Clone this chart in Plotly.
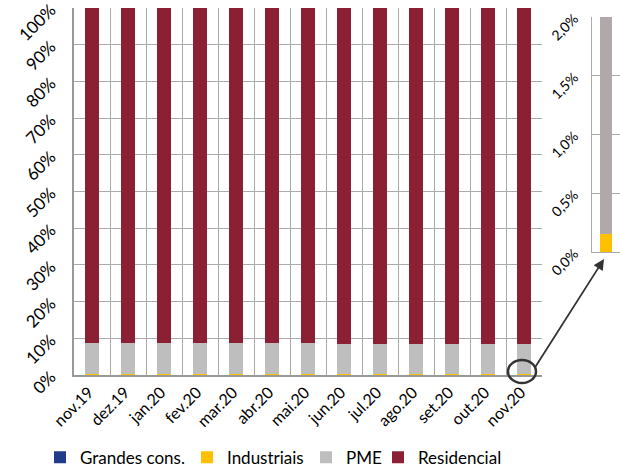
import plotly.graph_objects as go

months = ["nov.19", "dez.19", "jan.20", "fev.20", "mar.20", "abr.20", "mai.20",
          "jun.20", "jul.20", "ago.20", "set.20", "out.20", "nov.20"]
grandes = [0.02] * 13
industriais = [0.20, 0.20, 0.20, 0.20, 0.20, 0.20, 0.20, 0.20, 0.20, 0.15, 0.15, 0.15, 0.15]
pme = [8.6, 8.6, 8.6, 8.5, 8.5, 8.4, 8.4, 8.3, 8.3, 8.3, 8.3, 8.2, 8.2]
residencial = [round(100 - g - i - p, 2) for g, i, p in zip(grandes, industriais, pme)]

inset_label = ["nov.20"]
inset_industriais = [0.15]
inset_pme = [1.85]

main_ticks = [0, 10, 20, 30, 40, 50, 60, 70, 80, 90, 100]
main_ticktext = [f"{v}%" for v in main_ticks]
inset_ticks = [0.0, 0.5, 1.0, 1.5, 2.0]
inset_ticktext = ["0,0%", "0,5%", "1,0%", "1,5%", "2,0%"]

C_GR = "#203B8C"
C_IN = "#FFC000"
C_PME = "#BEBEBE"
C_RES = "#8B2035"
GRID = "#ABABAB"
FONT = "Lato"

fig = go.Figure()
bw = 0.39
series = [("Grandes cons.", grandes, C_GR, "legend"),
          ("Industriais", industriais, C_IN, "legend2"),
          ("PME", pme, C_PME, "legend3"),
          ("Residencial", residencial, C_RES, "legend4")]
for name, vals, col, lg in series:
    fig.add_trace(go.Bar(x=months, y=vals, name=name, marker_color=col,
                         marker_line_width=0, width=bw, xaxis="x", yaxis="y", legend=lg))

fig.add_trace(go.Bar(x=[0], y=inset_industriais, marker_color=C_IN, marker_line_width=0,
                     width=0.43, showlegend=False, xaxis="x2", yaxis="y2"))
fig.add_trace(go.Bar(x=[0], y=inset_pme, marker_color="#B1A9A9", marker_line_width=0,
                     width=0.43, showlegend=False, xaxis="x2", yaxis="y2"))

leg_common = dict(orientation="h", xanchor="left", y=-0.012, yanchor="bottom",
                  font=dict(size=17), itemwidth=30, bgcolor="rgba(0,0,0,0)")

fig.update_layout(
    width=620, height=470,
    margin=dict(l=0, r=0, t=0, b=0, autoexpand=False),
    paper_bgcolor="white", plot_bgcolor="white",
    barmode="stack",
    font=dict(family=FONT, color="#000000"),
    xaxis=dict(domain=[74/620, 542/620], type="category", tickson="boundaries",
               showgrid=True, gridcolor=GRID, gridwidth=1,
               ticks="outside", ticklen=11, tickcolor="rgba(0,0,0,0)",
               tickangle=-45, tickfont=dict(size=16), automargin=False,
               ticklabelshift=-3, ticklabeloverflow="allow",
               showline=True, linecolor="#999999", linewidth=1.5, mirror=False),
    yaxis=dict(domain=[(470-375)/470, (470-8)/470], range=[0, 100],
               tickvals=main_ticks, ticktext=main_ticktext, tickangle=-45,
               tickfont=dict(size=17), showgrid=True, gridcolor=GRID, gridwidth=1,
               showline=True, linecolor="#999999", linewidth=1.5, zeroline=False,
               automargin=False, ticklabelstandoff=18, ticklabeloverflow="allow"),
    xaxis2=dict(domain=[592/620, 1.0], range=[-0.5, 0.5], anchor="y2",
                showticklabels=False, showgrid=False, zeroline=False, automargin=False,
                showline=True, linecolor=GRID, linewidth=1),
    yaxis2=dict(domain=[(470-252)/470, (470-17)/470], range=[0, 2.0], anchor="x2",
                tickvals=inset_ticks, ticktext=inset_ticktext, tickangle=-45,
                tickfont=dict(size=14), showgrid=True, gridcolor=GRID, gridwidth=1,
                showline=True, linecolor=GRID, linewidth=1, zeroline=False,
                automargin=False, ticklabelstandoff=14, ticklabeloverflow="allow"),
    legend=dict(x=40/620, **leg_common),
    legend2=dict(x=187/620, **leg_common),
    legend3=dict(x=306/620, **leg_common),
    legend4=dict(x=378/620, **leg_common),
    bargap=0,
)

fig.add_shape(type="circle", xref="paper", yref="paper",
              x0=508/620, x1=536/620, y0=(470-383)/470, y1=(470-360)/470,
              line=dict(color="#333333", width=2.5))
fig.add_annotation(xref="paper", yref="paper", axref="pixel", ayref="pixel",
                   x=604/620, y=(470-259)/470, ax=-70, ay=110, text="",
                   showarrow=True, arrowhead=2, arrowsize=1.2, arrowwidth=1.8,
                   arrowcolor="#333333")

fig.write_html("out.html", config={"displayModeBar": False},
               post_script="document.body.style.margin='0px';document.body.style.overflow='hidden';")
